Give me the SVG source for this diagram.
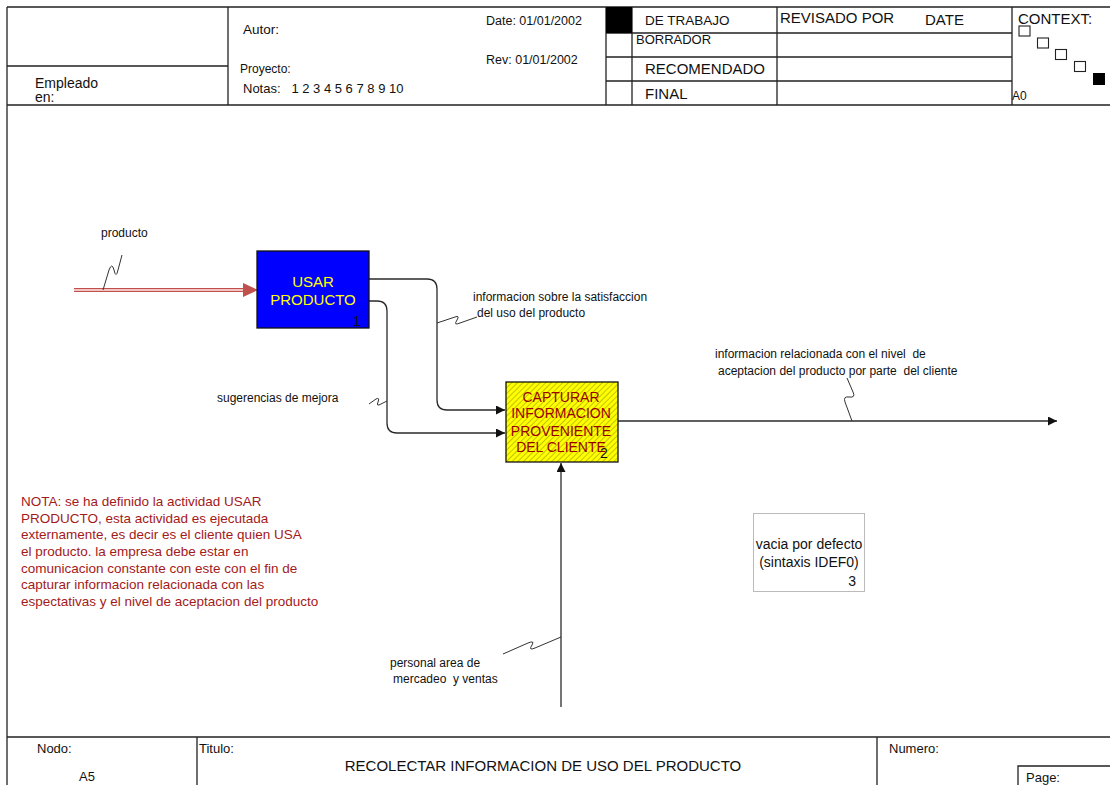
<svg xmlns="http://www.w3.org/2000/svg" width="1110" height="785" viewBox="0 0 1110 785">
<style>
text{font-family:"Liberation Sans",Arial,sans-serif;fill:#111}
.frame{stroke:#222;stroke-width:1.3;fill:none}
.thin{stroke:#333;stroke-width:1;fill:none}
.h13{font-size:13px}
.h15{font-size:15px}
.lbl{font-size:12px}
.nota{font-size:13.5px;fill:#A31A1A}
.conn{stroke:#2a2a2a;stroke-width:1.3;fill:none}
.sq{stroke:#222;stroke-width:1.1;fill:none}
</style>
<defs>
<marker id="arr" markerWidth="10" markerHeight="9" refX="9" refY="4.5" orient="auto" markerUnits="userSpaceOnUse"><path d="M0,0 L9,4.5 L0,9 Z" fill="#111"/></marker>
<pattern id="hatch" width="4" height="4" patternUnits="userSpaceOnUse" patternTransform="rotate(45)"><rect width="4" height="4" fill="#FFFF00"/><line x1="0.5" y1="0" x2="0.5" y2="4" stroke="#C4C400" stroke-width="1"/></pattern>
</defs>
<rect width="1110" height="785" fill="#fff"/>

<g id="header">
<path class="frame" d="M7,7 H1110 M7,7 V785 M7,105 H1110 M7,66 H228 M228,7 V105 M606,7 V105 M632,7 V105 M777,7 V105 M1012,7 V105 M606,33 H1012 M606,57 H1012 M606,81 H1012"/>
<rect x="606" y="7" width="26" height="26" fill="#000"/>
<text x="243" y="34" style="font-size:13.5px">Autor:</text>
<text x="486" y="25" style="font-size:12.5px">Date: 01/01/2002</text>
<text x="486" y="64" style="font-size:12.5px">Rev:  01/01/2002</text>
<text x="240" y="73" style="font-size:12px">Proyecto:</text>
<text class="h13" x="243" y="93" xml:space="preserve">Notas:   1 2 3 4 5 6 7 8 9 10</text>
<text x="35" y="88" style="font-size:14px">Empleado</text>
<text x="35" y="102" style="font-size:14px">en:</text>
<text x="645" y="25" style="font-size:13.5px">DE TRABAJO</text>
<text x="636" y="44" style="font-size:13px">BORRADOR</text>
<text class="h15" x="645" y="74">RECOMENDADO</text>
<text class="h15" x="645" y="99">FINAL</text>
<text class="h15" x="780" y="23">REVISADO POR</text>
<text class="h15" x="925" y="25">DATE</text>
<text class="h15" x="1018" y="24">CONTEXT:</text>
<rect class="sq" x="1019" y="26" width="11" height="10"/>
<rect class="sq" x="1037.5" y="38" width="11" height="10"/>
<rect class="sq" x="1055.5" y="49.5" width="11" height="10"/>
<rect class="sq" x="1074.5" y="61.5" width="11" height="10"/>
<rect x="1093" y="73" width="12" height="12" fill="#000"/>
<text x="1012" y="100" style="font-size:12px">A0</text>
</g>

<g id="footer">
<path class="frame" d="M7,737 H1110 M197,737 V785 M877,737 V785 M1018,785 V766 H1110"/>
<text class="h13" x="37" y="753">Nodo:</text>
<text class="h13" x="79" y="781">A5</text>
<text class="h13" x="199" y="753">Titulo:</text>
<text x="543" y="771" text-anchor="middle" style="font-size:15px">RECOLECTAR INFORMACION DE USO DEL PRODUCTO</text>
<text class="h13" x="889" y="753">Numero:</text>
<text class="h13" x="1026" y="782">Page:</text>
</g>

<g id="connectors">
<g id="c-producto">
<line x1="74" y1="288.5" x2="244" y2="288.5" stroke="#C0504D" stroke-width="1"/>
<line x1="74" y1="291.5" x2="244" y2="291.5" stroke="#C0504D" stroke-width="1"/>
<line x1="74" y1="290" x2="244" y2="290" stroke="#F2C4C2" stroke-width="2"/>
<path d="M243,283 L258,290 L243,297 Z" fill="#C0504D"/>
<path class="thin" d="M103,290 L109,270 Q112,262 114,270 Q116,279 118,270 L122,255"/>
<text class="lbl" x="101" y="237">producto</text>
</g>
<g id="c-satisfaccion">
<path class="conn" d="M369,279 H427 Q437,279 437,289 V400 Q437,410 447,410 H505" marker-end="url(#arr)"/>
<path class="thin" d="M437,323 L455,317 Q460,315 457,320 Q453,326 460,323 L477,317"/>
<text class="lbl" x="473" y="301">informacion sobre la satisfaccion</text>
<text class="lbl" x="477" y="317">del uso del producto</text>
</g>
<g id="c-sugerencias">
<path class="conn" d="M369,301 H377 Q387,301 387,311 V423 Q387,433 397,433 H505" marker-end="url(#arr)"/>
<path class="thin" d="M369,404 L376,399 Q380,397 378,402 Q376,407 381,404 L387,401"/>
<text class="lbl" x="217" y="402">sugerencias de mejora</text>
</g>
<g id="c-salida">
<path class="conn" d="M618,421 H1057" marker-end="url(#arr)"/>
<path class="thin" d="M852,421 L845,402 Q843,396 849,397 Q856,398 853,392 L847,378"/>
<text class="lbl" x="715" y="358" xml:space="preserve">informacion relacionada con el nivel  de</text>
<text class="lbl" x="718" y="375" xml:space="preserve">aceptacion del producto por parte  del cliente</text>
</g>
<g id="c-personal">
<path class="conn" d="M561,707 V463" marker-end="url(#arr)"/>
<path class="thin" d="M561,637 L535,648 Q528,651 532,645 Q535,640 528,643 L503,654"/>
<text class="lbl" x="390" y="667">personal area de</text>
<text class="lbl" x="393" y="683" xml:space="preserve">mercadeo  y ventas</text>
</g>
</g>

<g id="node1">
<rect x="257" y="251" width="112" height="77" fill="#0000FF" stroke="#111" stroke-width="1.3"/>
<text x="313" y="287" text-anchor="middle" style="font-size:15px;fill:#FFFF00">USAR</text>
<text x="313" y="305" text-anchor="middle" style="font-size:15px;fill:#FFFF00">PRODUCTO</text>
<text x="353" y="326" style="font-size:14px">1</text>
</g>

<g id="node2">
<rect x="506" y="382" width="112" height="80" fill="url(#hatch)" stroke="#111" stroke-width="1.3"/>
<text x="561" y="402" text-anchor="middle" style="font-size:14px;fill:#990000">CAPTURAR</text>
<text x="561" y="418" text-anchor="middle" style="font-size:14px;fill:#990000">INFORMACION</text>
<text x="561" y="436" text-anchor="middle" style="font-size:14px;fill:#990000">PROVENIENTE</text>
<text x="561" y="452" text-anchor="middle" style="font-size:14px;fill:#990000">DEL CLIENTE</text>
<text x="600" y="458" style="font-size:14px">2</text>
</g>

<g id="node3">
<rect x="753.5" y="513.5" width="111" height="78" fill="none" stroke="#777" stroke-width="1" stroke-dasharray="1,1"/>
<text x="809" y="549" text-anchor="middle" style="font-size:14px">vacia por defecto</text>
<text x="809" y="567" text-anchor="middle" style="font-size:14px">(sintaxis IDEF0)</text>
<text x="856" y="586" text-anchor="end" style="font-size:14px">3</text>
</g>

<g id="nota">
<text class="nota" x="21" y="506">NOTA: se ha definido la actividad USAR</text>
<text class="nota" x="21" y="522.7">PRODUCTO, esta actividad es ejecutada</text>
<text class="nota" x="21" y="539.3">externamente, es decir es el cliente quien USA</text>
<text class="nota" x="21" y="556">el producto. la empresa debe estar en</text>
<text class="nota" x="21" y="572.7">comunicacion constante con este con el fin de</text>
<text class="nota" x="21" y="589.3">capturar informacion relacionada con las</text>
<text class="nota" x="21" y="606">espectativas y el nivel de aceptacion del producto</text>
</g>
</svg>
